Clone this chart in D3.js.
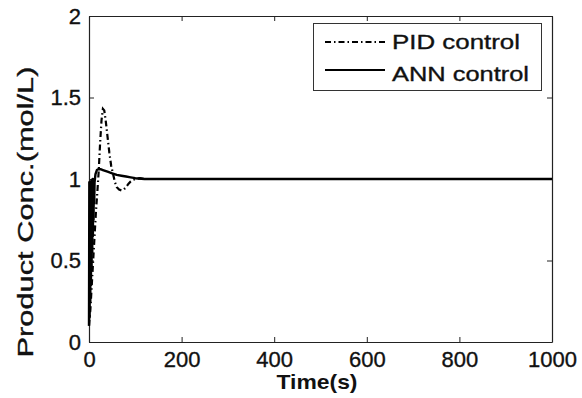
<!DOCTYPE html>
<html>
<head>
<meta charset="utf-8">
<script src="https://cdn.jsdelivr.net/npm/d3@7"></script>
<style>
  body { margin: 0; background: #fff; }
  text { font-family: Arial, "Liberation Sans", sans-serif; fill: #111; stroke: #111; stroke-width: 0.35px; }
</style>
</head>
<body>
<svg id="chart"></svg>
<script>
// DATA

const pidTime = [0, 3, 6, 9, 12, 15, 18, 21, 24, 27, 30, 33, 36, 40, 44, 48, 52, 56, 60, 65, 70, 75, 80, 85, 90, 95, 100, 110, 120, 150, 200, 1000];
const pidValue = [0.1, 0.2, 0.35, 0.5, 0.65, 0.8, 0.92, 1.05, 1.22, 1.36, 1.43, 1.42, 1.36, 1.26, 1.16, 1.08, 1.03, 0.98, 0.95, 0.935, 0.93, 0.935, 0.95, 0.97, 0.985, 0.995, 1.0, 1.005, 1.0, 1.0, 1.0, 1.0];

const annTime = [0, 0.7, 1.4, 2.1, 2.8, 3.5, 4.2, 4.9, 5.6, 6.3, 7, 7.7, 8.4, 9.1, 9.8, 10.5, 11.2, 12, 14, 17, 20, 25, 30, 40, 50, 60, 70, 80, 90, 100, 120, 150, 200, 1000];
const annValue = [0.1, 0.98, 0.15, 0.97, 0.25, 0.98, 0.35, 0.99, 0.45, 0.98, 0.55, 1.0, 0.65, 0.99, 0.75, 1.0, 0.85, 0.98, 1.03, 1.055, 1.06, 1.06, 1.055, 1.045, 1.035, 1.025, 1.02, 1.015, 1.01, 1.005, 1.0, 1.0, 1.0, 1.0];

const xTicks = [0, 200, 400, 600, 800, 1000];
const yTicks = [0, 0.5, 1, 1.5, 2];
const seriesNames = ["PID control", "ANN control"];

// LAYOUT

const width = 582;
const height = 398;
const margin = { left: 89, right: 30, top: 16, bottom: 56 };

const svg = d3.select("#chart")
  .attr("width", width)
  .attr("height", height);

const x = d3.scaleLinear()
  .domain([0, 1000])
  .range([margin.left, width - margin.right]);

const y = d3.scaleLinear()
  .domain([0, 2])
  .range([height - margin.bottom, margin.top]);

// AXES (matlab box, ticks inside)

function styleAxis(g) {
  g.select(".domain").attr("stroke", "#222").attr("stroke-width", 1.2);
  g.selectAll(".tick line").attr("stroke", "#222");
  g.selectAll(".tick text")
    .attr("font-size", 22)
    .attr("font-family", "Arial, 'Liberation Sans', sans-serif")
    .attr("fill", "#111");
}

svg.append("g")
  .attr("transform", `translate(0,${y(0)})`)
  .call(d3.axisBottom(x).tickValues(xTicks).tickFormat(d3.format("d"))
    .tickSizeInner(-5).tickSizeOuter(0).tickPadding(9))
  .call(styleAxis);

svg.append("g")
  .attr("transform", `translate(${x(0)},0)`)
  .call(d3.axisLeft(y).tickValues(yTicks).tickFormat(d => d)
    .tickSizeInner(-5).tickSizeOuter(0).tickPadding(8))
  .call(styleAxis);

svg.append("g")
  .attr("transform", `translate(0,${y(2)})`)
  .call(d3.axisTop(x).tickValues(xTicks).tickFormat("")
    .tickSizeInner(-5).tickSizeOuter(0))
  .call(styleAxis);

svg.append("g")
  .attr("transform", `translate(${x(1000)},0)`)
  .call(d3.axisRight(y).tickValues(yTicks).tickFormat("")
    .tickSizeInner(-5).tickSizeOuter(0))
  .call(styleAxis);

// LINES

const line = d3.line()
  .x(d => x(d[0]))
  .y(d => y(d[1]));

const pidData = pidTime.map((t, i) => [t, pidValue[i]]);
const annData = annTime.map((t, i) => [t, annValue[i]]);

svg.append("path")
  .datum(pidData)
  .attr("d", line)
  .attr("fill", "none")
  .attr("stroke", "#000")
  .attr("stroke-width", 2.2)
  .attr("stroke-dasharray", "6,3,1.5,3");

svg.append("path")
  .datum(annData)
  .attr("d", line)
  .attr("fill", "none")
  .attr("stroke", "#000")
  .attr("stroke-width", 2.4)
  .attr("stroke-linejoin", "round");

// LEGEND

const legend = svg.append("g");

legend.append("rect")
  .attr("x", 313.5)
  .attr("y", 23.5)
  .attr("width", 228)
  .attr("height", 67)
  .attr("fill", "#fff")
  .attr("stroke", "#333")
  .attr("stroke-width", 1);

const legendRows = [
  { name: seriesNames[0], dash: "6,3,1.5,3", ly: 42, ty: 49, len: 128 },
  { name: seriesNames[1], dash: null, ly: 70, ty: 81, len: 137 }
];

legendRows.forEach(r => {
  legend.append("line")
    .attr("x1", 325).attr("x2", 385)
    .attr("y1", r.ly).attr("y2", r.ly)
    .attr("stroke", "#000")
    .attr("stroke-width", 2.2)
    .attr("stroke-dasharray", r.dash);

  legend.append("text")
    .attr("x", 392)
    .attr("y", r.ty)
    .attr("font-size", 21)
    .attr("textLength", r.len)
    .attr("lengthAdjust", "spacingAndGlyphs")
    .text(r.name);
});

// AXIS TITLES

svg.append("text")
  .attr("x", 317)
  .attr("y", 389)
  .attr("text-anchor", "middle")
  .attr("font-size", 21)
  .attr("font-weight", "bold")
  .attr("textLength", 81)
  .attr("lengthAdjust", "spacingAndGlyphs")
  .style("stroke-width", "0px")
  .text("Time(s)");

svg.append("text")
  .attr("transform", "translate(33,212) rotate(-90)")
  .attr("text-anchor", "middle")
  .attr("font-size", 22)
  .attr("textLength", 291)
  .attr("lengthAdjust", "spacingAndGlyphs")
  .text("Product Conc.(mol/L)");
</script>
</body>
</html>
